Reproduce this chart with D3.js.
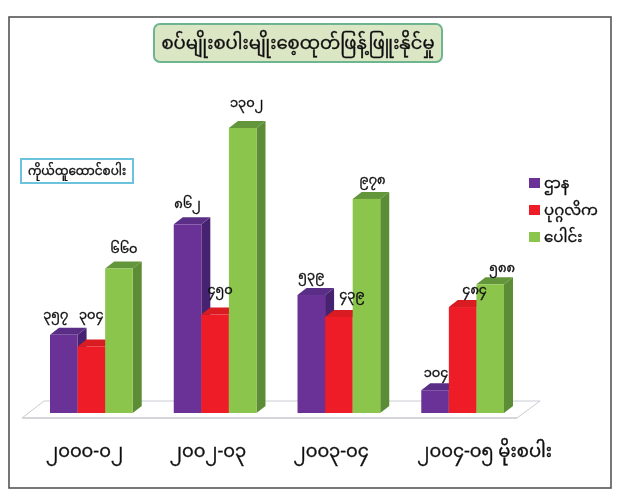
<!DOCTYPE html>
<html lang="my">
<head>
<meta charset="utf-8">
<script src="https://cdn.jsdelivr.net/npm/d3@7"></script>
<style>
html,body{margin:0;padding:0;background:#fff;}
svg{display:block;}
text{font-family:"Noto Sans Myanmar","Padauk","Noto Sans","DejaVu Sans",sans-serif;fill:#111;stroke:#111;stroke-width:.35px;}
</style>
</head>
<body>
<svg id="c" width="619" height="492"></svg>
<script>
const titleText = "စပ်မျိုးစပါးမျိုးစေ့ထုတ်ဖြန့်ဖြူးနိုင်မှု";
const noteText = "ကိုယ်ထူထောင်စပါး";
const categories = ["၂၀၀၀-၀၂", "၂၀၀၂-၀၃", "၂၀၀၃-၀၄", "၂၀၀၄-၀၅ မိုးစပါး"];
const seriesNames = ["ဌာန", "ပုဂ္ဂလိက", "ပေါင်း"];
const dept = [357, 862, 539, 104];
const privateSector = [304, 450, 439, 484];
const total = [660, 1302, 978, 588];
const deptLabels = ["၃၅၇", "၈၆၂", "၅၃၉", "၁၀၄"];
const privateLabels = ["၃၀၄", "၄၅၀", "၄၃၉", "၄၈၄"];
const totalLabels = ["၆၆၀", "၁၃၀၂", "၉၇၈", "၅၈၈"];

const frontColors = ["#6b3396", "#ee1c25", "#8cc54c"];
const topColors = ["#5a2f86", "#d81c22", "#64953a"];
const sideColors = ["#47246f", "#a81a1e", "#5b8c35"];
// hand placement of each value label relative to its bar
const labelNudgeX = [[-8, 0, 5, 0], [0, 5, 4, 0], [0, 13, 6, 0], [1, 12, 12, 0]];
const labelNudgeY = [[-2, -13, -2], [-2, -6, -7], [-1, -4, -1], [1, 1, 2]];

const series = [dept, privateSector, total];
const labels = [deptLabels, privateLabels, totalLabels];

const svg = d3.select("#c");
const defs = svg.append("defs");
defs.append("filter").attr("id", "soft").append("feGaussianBlur").attr("stdDeviation", 0.45);
const root = svg.append("g").attr("filter", "url(#soft)");

const x0 = d3.scaleBand().domain(d3.range(categories.length)).range([50, 504]).paddingInner(0.3315).paddingOuter(0);
const x1 = d3.scaleBand().domain(d3.range(series.length)).range([0, x0.bandwidth()]);
const y = d3.scaleLinear().domain([0, 1302]).range([413, 128]);
const depthX = 9, depthY = 7;

// frame
root.append("rect").attr("x", 9).attr("y", 17).attr("width", 602).attr("height", 471)
  .attr("fill", "#fff").attr("stroke", "#555").attr("stroke-width", 1.6);

// floor
root.append("path").attr("d", "M22,418 L44,401 L540,401 L517,418 Z")
  .attr("fill", "#fff").attr("stroke", "#c9ccd2").attr("stroke-width", 1);
root.append("line").attr("x1", 22).attr("x2", 517).attr("y1", 418).attr("y2", 418)
  .attr("stroke", "#d4d6da").attr("stroke-width", 2);

// bars
const chart = root.append("g");
categories.forEach((cat, c) => {
  series.forEach((vals, s) => {
    const bx = x0(c) + x1(s), w = x1.bandwidth(), ty = y(vals[c]), by = y(0);
    const g = chart.append("g");
    g.append("path").attr("fill", sideColors[s])
      .attr("d", `M${bx + w},${ty} L${bx + w + depthX},${ty - depthY} L${bx + w + depthX},${by - depthY} L${bx + w},${by} Z`);
    g.append("path").attr("fill", topColors[s])
      .attr("d", `M${bx},${ty} L${bx + depthX},${ty - depthY} L${bx + w + depthX},${ty - depthY} L${bx + w},${ty} Z`);
    g.append("rect").attr("x", bx).attr("y", ty).attr("width", w).attr("height", by - ty).attr("fill", frontColors[s]);
  });
});

// value labels
categories.forEach((cat, c) => {
  series.forEach((vals, s) => {
    root.append("text")
      .attr("x", x0(c) + x1(s) + x1.bandwidth() / 2 + labelNudgeX[c][s])
      .attr("y", y(vals[c]) - 14 + labelNudgeY[c][s])
      .attr("text-anchor", "middle")
      .attr("font-size", 13)
      .text(labels[s][c]);
  });
});

// category labels
categories.forEach((cat, c) => {
  root.append("text").attr("x", x0(c) - 4).attr("y", 457).attr("font-size", 18).text(cat);
});

// title
root.append("rect").attr("x", 154).attr("y", 24).attr("width", 288).attr("height", 38).attr("rx", 6)
  .attr("fill", "#dbe7c4").attr("stroke", "#6db58e").attr("stroke-width", 2);
root.append("text").attr("x", 298).attr("y", 49).attr("text-anchor", "middle").attr("font-size", 18).text(titleText);

// note box
root.append("rect").attr("x", 21).attr("y", 159).attr("width", 112).attr("height", 24)
  .attr("fill", "#fff").attr("stroke", "#6cc3de").attr("stroke-width", 2);
root.append("text").attr("x", 77).attr("y", 175).attr("text-anchor", "middle").attr("font-size", 12).text(noteText);

// legend
const legend = root.selectAll("g.lg").data(seriesNames).enter().append("g")
  .attr("transform", (d, i) => `translate(529,${178 + i * 27})`);
legend.append("rect").attr("width", 11).attr("height", 10).attr("fill", (d, i) => frontColors[i]);
legend.append("text").attr("x", 15).attr("y", 10).attr("font-size", 15).text(d => d);
</script>
</body>
</html>
